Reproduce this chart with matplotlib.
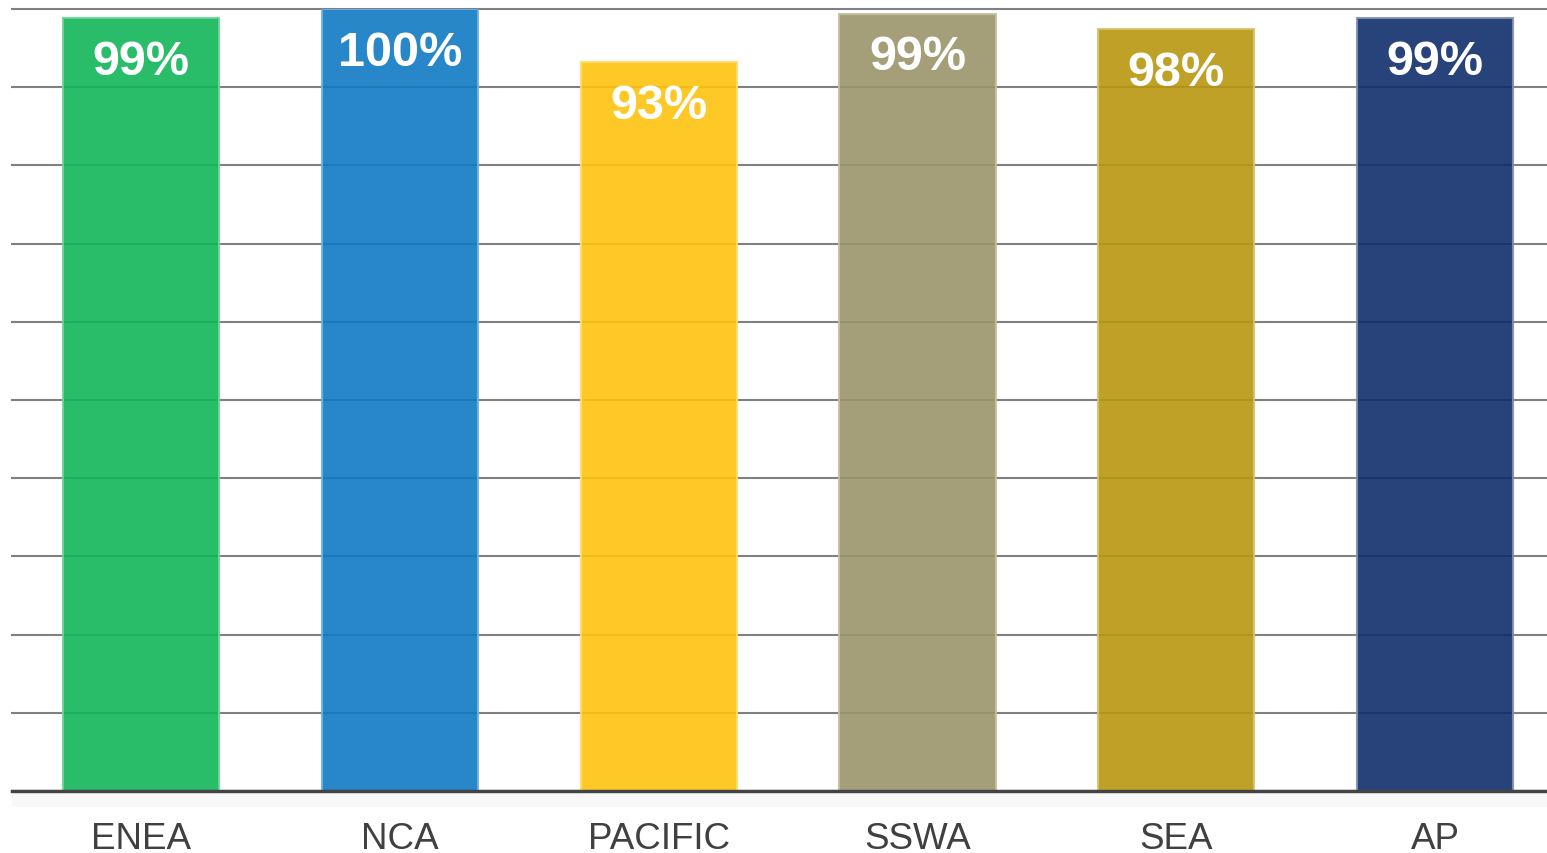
import matplotlib
matplotlib.use("Agg")
import matplotlib.pyplot as plt
from matplotlib.patches import Rectangle

categories = ["ENEA", "NCA", "PACIFIC", "SSWA", "SEA", "AP"]
values = [98.8, 100.0, 93.2, 99.4, 97.4, 98.8]
value_labels = ["99%", "100%", "93%", "99%", "98%", "99%"]
colors = ["#11B559", "#0F7AC4", "#FEC30F", "#9A956B", "#B99710", "#102E6A"]
edge_colors = ["#6FD39A", "#73B3E0", "#FEDC70", "#C4C0A2", "#D6C270", "#8090B2"]

W, H = 1547, 854
fig = plt.figure(figsize=(W / 100, H / 100), dpi=100)
fig.patch.set_facecolor("white")

# faint shadow strip under the axis
fig.patches.append(Rectangle((12 / W, (H - 808) / H), 1 - 12 / W, 13 / H,
                             transform=fig.transFigure, facecolor="#F8F8F8",
                             edgecolor="none", zorder=0))

left = 11.6 / W
ax = fig.add_axes([left, (H - 792) / H, 1553 / W, 782 / H])
ax.set_facecolor("white")
ax.patch.set_alpha(0)

x = list(range(len(categories)))
ax.bar(x, values, width=0.603, color=colors, alpha=0.9,
       edgecolor=edge_colors, linewidth=1.5, zorder=3)

for xi, v, lab in zip(x, values, value_labels):
    ax.text(xi, v - 5.5, lab, ha="center", va="center", color="white",
            fontsize=35, fontweight="bold", family="Liberation Sans", zorder=5)

ax.set_xlim(-0.5, 5.5)
ax.set_ylim(0, 100)
ax.set_yticks(range(0, 101, 10))
ax.yaxis.grid(True, color="#808080", linewidth=1.5, zorder=1)
for gl in ax.yaxis.get_gridlines():
    gl.set_clip_on(False)
ax.set_axisbelow(True)
ax.tick_params(axis="y", left=False, labelleft=False)
ax.set_xticks(x)
ax.set_xticklabels(categories, fontsize=26.5, color="#404040", family="Liberation Sans")
ax.tick_params(axis="x", length=0, pad=21.5)

for s in ["top", "right", "left"]:
    ax.spines[s].set_visible(False)
ax.spines["bottom"].set_color("#444444")
ax.spines["bottom"].set_linewidth(2.5)
ax.spines["bottom"].set_zorder(6)

fig.savefig("out.png", dpi=100)
